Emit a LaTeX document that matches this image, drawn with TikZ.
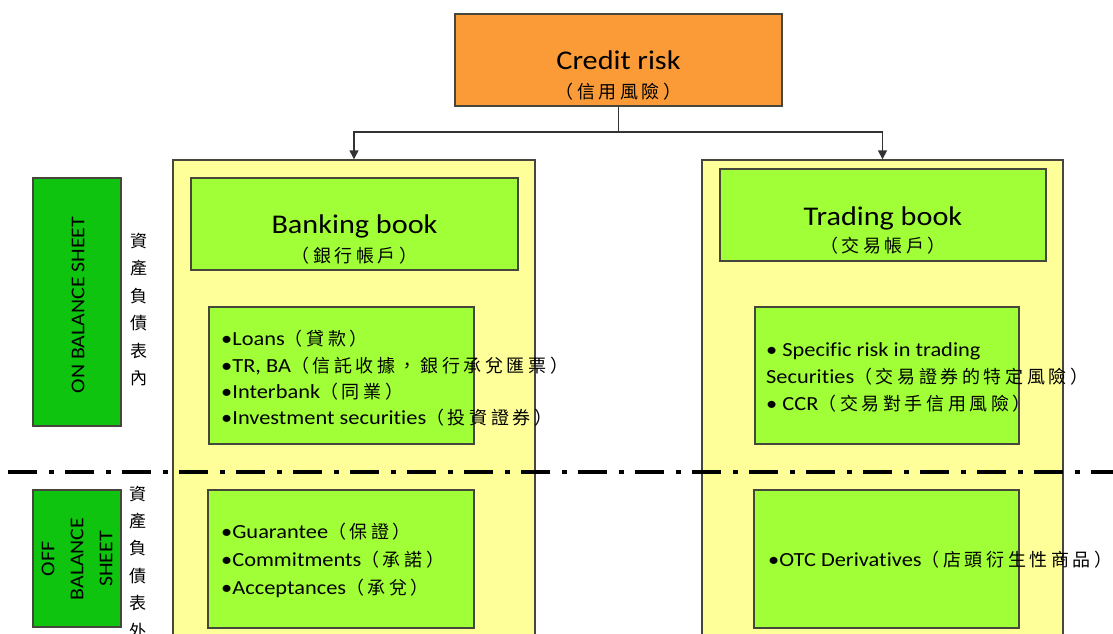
\documentclass[tikz,border=0pt]{standalone}
\usepackage{fontspec}
\setmainfont{Carlito}[FakeStretch=1.12, Ligatures={NoCommon}]
\newfontfamily\cjk{Noto Sans CJK TC}[LetterSpace=20]
\newfontfamily\cjkplain{Noto Sans CJK TC}
\usetikzlibrary{arrows.meta}
\newcommand\zhtxt[1]{{\cjk\fontsize{18}{24}\selectfont #1}}
\definecolor{orangefill}{RGB}{250,155,55}
\definecolor{yellowfill}{RGB}{255,255,153}
\definecolor{limefill}{RGB}{160,255,55}
\definecolor{sidegreen}{RGB}{14,196,14}
\definecolor{edgegray}{RGB}{70,70,60}
\tikzset{
  panel/.style={draw=edgegray, line width=1.4pt, inner sep=0pt},
  colbox/.style={panel, fill=yellowfill, minimum width=362pt, minimum height=520pt},
  bookbox/.style={panel, fill=limefill, minimum width=327pt, minimum height=92pt},
  itembox/.style={panel, fill=limefill, minimum width=265pt, minimum height=137pt},
  sidebox/.style={panel, fill=sidegreen, minimum width=88pt},
  titletext/.style={font=\fontsize{27}{30}\selectfont, anchor=base, inner sep=0pt},
  subtext/.style={font=\cjk\fontsize{18}{20}\selectfont, inner sep=0pt},
  itemtext/.style={font=\fontsize{20}{24}\selectfont, anchor=base west, inner sep=0pt},
  sidetext/.style={font=\fontsize{19.5}{29}\selectfont, rotate=90, align=center, inner sep=0pt},
  vertzh/.style={font=\cjkplain\fontsize{17}{27.4}\selectfont, align=center, inner sep=0pt},
  link/.style={draw=black!80, line width=1.4pt, -{Triangle[width=9pt,length=9pt]}},
  divider/.style={line width=4pt, dash pattern=on 29pt off 12pt on 5pt off 11pt},
}
\begin{document}
\begin{tikzpicture}[x=1pt,y=-1pt]
\clip (0,0) rectangle (1113,634);
\fill[white] (0,0) rectangle (1113,634);

% top box
\node[panel, fill=orangefill, minimum width=327pt, minimum height=92pt] (credit) at (618.5,60) {};
\node[titletext] (creditT) at (618.5,70) {Credit risk};
\node[subtext] (creditS) at (618.5,92) {（信用風險）};

% columns
\node[colbox] (bankcol) at (354,420) {};
\node[colbox, minimum width=361pt] (tradecol) at (882.5,420) {};

\coordinate (junction) at (618.5,132);
\draw[draw=black!80, line width=1.4pt] (credit.south) -- (junction);
\draw[link] (junction) -| (bankcol.north);
\draw[link] (junction) -| (tradecol.north);

% book boxes
\node[bookbox] (bank) at (354.5,224) {};
\node[titletext] (bankT) at (354.5,233) {Banking book};
\node[subtext] (bankS) at (354.5,256) {（銀行帳戶）};
\node[bookbox, minimum width=326pt] (trade) at (883,215) {};
\node[titletext] (tradeT) at (883,225) {Trading book};
\node[subtext] (tradeS) at (883,246) {（交易帳戶）};

% item boxes
\node[itembox] (bankon) at (341.5,375.5) {};
\node[itembox, minimum width=264pt] (tradeon) at (887,375.5) {};
\node[itembox, minimum width=266pt, minimum height=138pt] (bankoff) at (341,559) {};
\node[itembox, minimum height=138pt] (tradeoff) at (886.5,559) {};

\node[itemtext] (b1) at (221,345) {•Loans\zhtxt{（貸款）}};
\node[itemtext] (b2) at (221,372) {•TR, BA\zhtxt{（信託收據，銀行承兌匯票）}};
\node[itemtext] (b3) at (221,398) {•Interbank\zhtxt{（同業）}};
\node[itemtext] (b4) at (221,424) {•Investment securities\zhtxt{（投資證券）}};

\node[itemtext] (t1) at (766,356) {• Specific risk in trading};
\node[itemtext] (t2) at (766,383) {Securities\zhtxt{（交易證券的特定風險）}};
\node[itemtext] (t3) at (766,410) {• CCR\zhtxt{（交易對手信用風險）}};

\node[itemtext] (o1) at (221,538) {•Guarantee\zhtxt{（保證）}};
\node[itemtext] (o2) at (221,566) {•Commitments\zhtxt{（承諾）}};
\node[itemtext] (o3) at (221,594) {•Acceptances\zhtxt{（承兌）}};

\node[itemtext] (p1) at (768,566) {•OTC Derivatives\zhtxt{（店頭衍生性商品）}};

% side labels
\node[sidebox, minimum height=248pt] (onbox) at (77,302) {};
\node[sidetext] (onT) at (78,305) {ON BALANCE SHEET};
\node[sidebox, minimum height=137pt] (offbox) at (77,558.5) {};
\node[sidetext] (offT) at (77,559) {OFF\\BALANCE\\SHEET};

\node[vertzh] (onzh) at (138.5,309.5) {資\\產\\負\\債\\表\\內};
\node[vertzh] (offzh) at (137.5,562) {資\\產\\負\\債\\表\\外};

% divider
\coordinate (divL) at (8,472);
\coordinate (divR) at (1113,472);
\draw[divider] (divL) -- (divR);
\end{tikzpicture}
\end{document}
